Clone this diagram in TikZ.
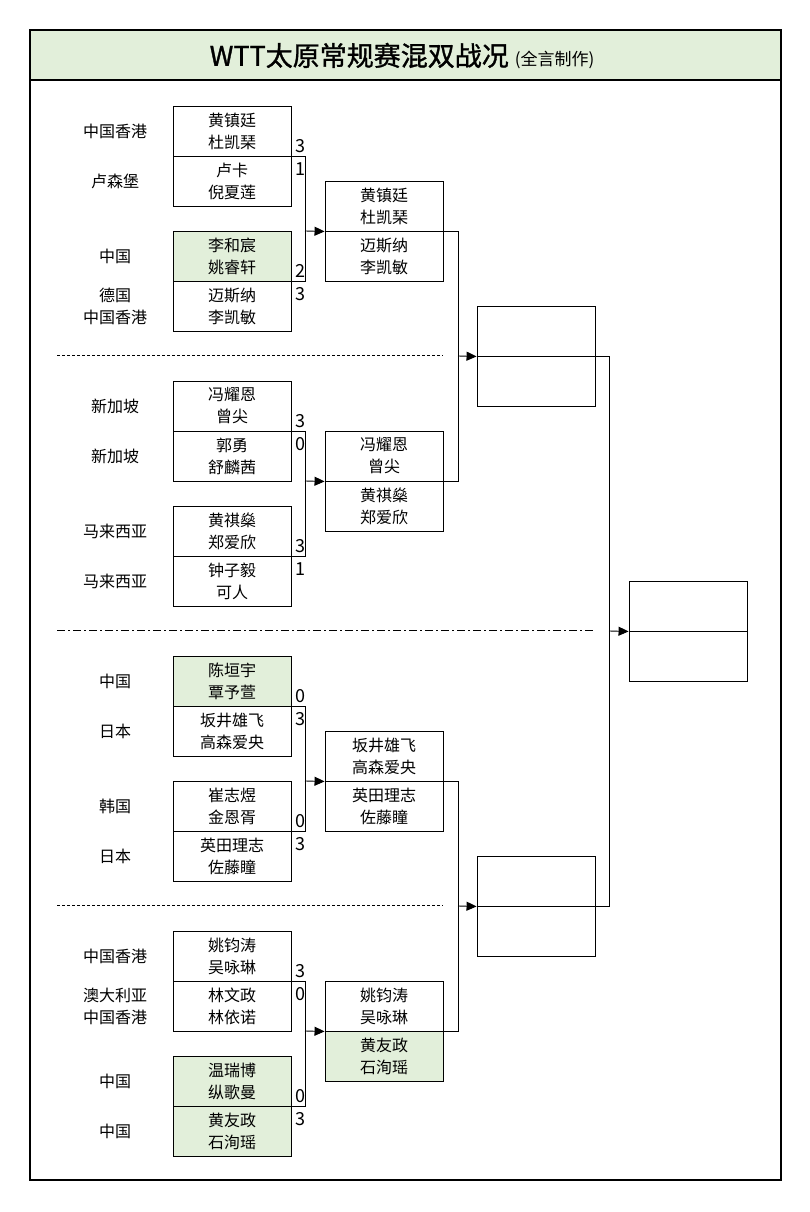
\documentclass[tikz,border=0pt]{standalone}
\usepackage{fontspec}
\setmainfont{Noto Sans CJK SC}
\newfontfamily\titlefont[FakeBold=1.2]{Noto Sans CJK SC}
\usepackage{tikz}
\usetikzlibrary{arrows.meta}
\definecolor{lightgreen}{HTML}{E2EFDA}
\tikzset{
  pair/.style={draw, line width=0.9pt, minimum width=118pt, minimum height=50pt, inner sep=0pt, align=center, font=\fontsize{16}{22}\selectfont},
  cn/.style={fill=lightgreen},
  country/.style={align=center, font=\fontsize{16}{22}\selectfont},
  score/.style={inner sep=0pt, anchor=base west, font=\fontsize{18}{18}\selectfont},
  link/.style={line width=0.9pt},
  adv/.style={line width=0.9pt, -{Triangle[length=10pt,width=9pt]}},
}

\begin{document}
\begin{tikzpicture}[x=1pt, y=-1pt]
\useasboundingbox (0,0) rectangle (810,1212);
% frame and title
\draw[line width=1.5pt, fill=lightgreen] (30,30) rectangle (781,80);
\draw[line width=1.5pt] (30,80) rectangle (781,1180);
\node[font=\fontsize{27}{27}\selectfont\titlefont] (title) at (402,56) {WTT太原常规赛混双战况\ {\fontsize{17}{17}\selectfont\normalfont (全言制作)}};

% separators
\draw[line width=0.8pt, dash pattern=on 3pt off 2pt] (57,355) -- (443,355);
\draw[line width=0.8pt, dash pattern=on 8pt off 3pt on 2pt off 3pt] (57,630) -- (595,630);
\draw[line width=0.8pt, dash pattern=on 3pt off 2pt] (57,905) -- (443,905);

% first round
\node[pair] (r1a) at (232,131) {黄镇廷\\杜凯琹};
\node[pair] (r1b) at (232,181) {卢卡\\倪夏莲};
\node[pair, cn] (r1c) at (232,256) {李和宸\\姚睿轩};
\node[pair] (r1d) at (232,306) {迈斯纳\\李凯敏};
\node[pair] (r1e) at (232,406) {冯耀恩\\曾尖};
\node[pair] (r1f) at (232,456) {郭勇\\舒麟茜};
\node[pair] (r1g) at (232,531) {黄祺燊\\郑爱欣};
\node[pair] (r1h) at (232,581) {钟子毅\\可人};
\node[pair, cn] (r1i) at (232,681) {陈垣宇\\覃予萱};
\node[pair] (r1j) at (232,731) {坂井雄飞\\高森爱央};
\node[pair] (r1k) at (232,806) {崔志煜\\金恩胥};
\node[pair] (r1l) at (232,856) {英田理志\\佐藤瞳};
\node[pair] (r1m) at (232,956) {姚钧涛\\吴咏琳};
\node[pair] (r1n) at (232,1006) {林文政\\林依诺};
\node[pair, cn] (r1o) at (232,1081) {温瑞博\\纵歌曼};
\node[pair, cn] (r1p) at (232,1131) {黄友政\\石洵瑶};

% countries
\node[country] at (115,131) {中国香港};
\node[country] at (115,181) {卢森堡};
\node[country] at (115,256) {中国};
\node[country] at (115,306) {德国\\中国香港};
\node[country] at (115,406) {新加坡};
\node[country] at (115,456) {新加坡};
\node[country] at (115,531) {马来西亚};
\node[country] at (115,581) {马来西亚};
\node[country] at (115,681) {中国};
\node[country] at (115,731) {日本};
\node[country] at (115,806) {韩国};
\node[country] at (115,856) {日本};
\node[country] at (115,956) {中国香港};
\node[country] at (115,1006) {澳大利亚\\中国香港};
\node[country] at (115,1081) {中国};
\node[country] at (115,1131) {中国};

% scores
\node[score] at ([shift={(4,-4)}]r1a.south east) {3};
\node[score] at ([shift={(4,20)}]r1b.north east) {1};
\node[score] at ([shift={(4,-4)}]r1c.south east) {2};
\node[score] at ([shift={(4,20)}]r1d.north east) {3};
\node[score] at ([shift={(4,-4)}]r1e.south east) {3};
\node[score] at ([shift={(4,20)}]r1f.north east) {0};
\node[score] at ([shift={(4,-4)}]r1g.south east) {3};
\node[score] at ([shift={(4,20)}]r1h.north east) {1};
\node[score] at ([shift={(4,-4)}]r1i.south east) {0};
\node[score] at ([shift={(4,20)}]r1j.north east) {3};
\node[score] at ([shift={(4,-4)}]r1k.south east) {0};
\node[score] at ([shift={(4,20)}]r1l.north east) {3};
\node[score] at ([shift={(4,-4)}]r1m.south east) {3};
\node[score] at ([shift={(4,20)}]r1n.north east) {0};
\node[score] at ([shift={(4,-4)}]r1o.south east) {0};
\node[score] at ([shift={(4,20)}]r1p.north east) {3};

% second round
\node[pair] (r2a) at (384,206) {黄镇廷\\杜凯琹};
\node[pair] (r2b) at (384,256) {迈斯纳\\李凯敏};
\node[pair] (r2c) at (384,456) {冯耀恩\\曾尖};
\node[pair] (r2d) at (384,506) {黄祺燊\\郑爱欣};
\node[pair] (r2e) at (384,756) {坂井雄飞\\高森爱央};
\node[pair] (r2f) at (384,806) {英田理志\\佐藤瞳};
\node[pair] (r2g) at (384,1006) {姚钧涛\\吴咏琳};
\node[pair, cn] (r2h) at (384,1056) {黄友政\\石洵瑶};

% semi finals and final
\node[pair] (r3a) at (536,331) {};
\node[pair] (r3b) at (536,381) {};
\node[pair] (r3c) at (536,881) {};
\node[pair] (r3d) at (536,931) {};
\node[pair] (fa) at (688,606) {};
\node[pair] (fb) at (688,656) {};

% connectors
\coordinate (j1) at (305,231);
\coordinate (j2) at (305,481);
\coordinate (j3) at (305,781);
\coordinate (j4) at (305,1031);
\coordinate (k1) at (458,356);
\coordinate (k2) at (458,906);
\coordinate (m1) at (609,631);

\draw[link] (r1a.south east) -| (j1);
\draw[link] (r1c.south east) -| (j1);
\draw[adv] (j1) -- (r2a.south west);
\draw[link] (r1e.south east) -| (j2);
\draw[link] (r1g.south east) -| (j2);
\draw[adv] (j2) -- (r2c.south west);
\draw[link] (r1i.south east) -| (j3);
\draw[link] (r1k.south east) -| (j3);
\draw[adv] (j3) -- (r2e.south west);
\draw[link] (r1m.south east) -| (j4);
\draw[link] (r1o.south east) -| (j4);
\draw[adv] (j4) -- (r2g.south west);

\draw[link] (r2a.south east) -| (k1);
\draw[link] (r2c.south east) -| (k1);
\draw[adv] (k1) -- (r3a.south west);
\draw[link] (r2e.south east) -| (k2);
\draw[link] (r2g.south east) -| (k2);
\draw[adv] (k2) -- (r3c.south west);

\draw[link] (r3a.south east) -| (m1);
\draw[link] (r3c.south east) -| (m1);
\draw[adv] (m1) -- (fa.south west);
\end{tikzpicture}
\end{document}
